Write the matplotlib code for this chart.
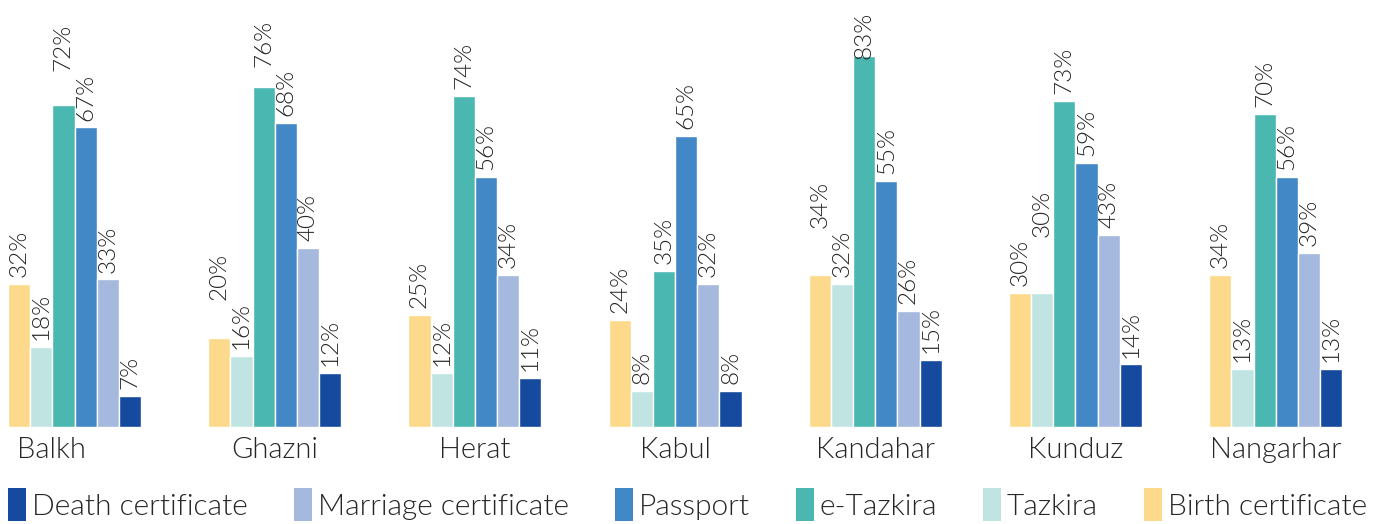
import matplotlib
matplotlib.use("Agg")
import matplotlib.pyplot as plt
from matplotlib.patches import Patch
import numpy as np

plt.rcParams['font.family'] = ['Lato', 'DejaVu Sans']
plt.rcParams['font.weight'] = 350  # Lato Light

provinces = ["Balkh", "Ghazni", "Herat", "Kabul", "Kandahar", "Kunduz", "Nangarhar"]
documents = ["Birth certificate", "Tazkira", "e-Tazkira", "Passport",
             "Marriage certificate", "Death certificate"]
colors = ["#FDD98B", "#BFE4E1", "#4AB8B1", "#4288C6", "#A5B8DD", "#164A9E"]

birth = [32, 20, 25, 24, 34, 30, 34]
tazkira = [18, 16, 12, 8, 32, 30, 13]
e_tazkira = [72, 76, 74, 35, 83, 73, 70]
passport = [67, 68, 56, 65, 55, 59, 56]
marriage = [33, 40, 34, 32, 26, 43, 39]
death = [7, 12, 11, 8, 15, 14, 13]
series = [birth, tazkira, e_tazkira, passport, marriage, death]

txt_color = "#262626"
px_unit = 22.17      # pixels per bar
group_step = 9.03    # bar units per province
dpi = 100

fig = plt.figure(figsize=(13.78, 5.24), dpi=dpi)
ax = fig.add_axes([0, 0.185, 1, 0.815])

base = np.arange(len(provinces)) * group_step
labels = [[None] * len(series) for _ in provinces]
for j, (vals, col) in enumerate(zip(series, colors)):
    xs = base + j + 0.5
    ax.bar(xs, vals, width=1.0, color=col, edgecolor="white", linewidth=1.0)
    for i, (x, v) in enumerate(zip(xs, vals)):
        labels[i][j] = ax.annotate(f"{v}%", (x, v), xytext=(0, 5), textcoords="offset points",
                                   rotation=90, ha="center", va="bottom", fontsize=17.5,
                                   color=txt_color)

# province names under each group
for i, name in enumerate(provinces):
    if i == 0:
        xpos, ha = base[i] + 0.41, "left"
    else:
        xpos, ha = base[i] + 3, "center"
    ax.annotate(name, (xpos, 0), xytext=(0, -22), textcoords="offset points",
                ha=ha, va="baseline", fontsize=21, color=txt_color,
                annotation_clip=False)

ax.set_xlim(-8 / px_unit, (1378 - 8) / px_unit)
ax.set_ylim(0, 95.5)
ax.axis("off")

# push up the taller bar's label when two neighbouring labels collide
fig.canvas.draw()
r = fig.canvas.get_renderer()
fig_h = fig.bbox.height
for i in range(len(provinces)):
    for j in range(len(series) - 1):
        a, b = labels[i][j], labels[i][j + 1]
        ea, eb = a.get_window_extent(r), b.get_window_extent(r)
        if ea.y0 < eb.y1 and eb.y0 < ea.y1:
            va_, vb_ = series[j][i], series[j + 1][i]
            if va_ > vb_:
                mover, other, em = a, eb, ea
            else:
                mover, other, em = b, ea, eb
            dy = other.y1 + 2 - em.y0
            ox, oy = mover.xyann
            mover.xyann = (ox, oy + dy * 72 / dpi)
    for t in labels[i]:
        e = t.get_window_extent(r)
        if e.y1 > fig_h - 12:
            ox, oy = t.xyann
            t.xyann = (ox, oy - (e.y1 - fig_h + 12) * 72 / dpi)

handles = [Patch(facecolor=c, edgecolor="none", label=d)
           for d, c in zip(documents[::-1], colors[::-1])]
leg = fig.legend(handles=handles, loc="lower left", ncol=6, mode="expand",
                 bbox_to_anchor=(0.004, 0.0, 0.99, 0.08), frameon=False,
                 handlelength=0.6, handleheight=1.3, handletextpad=0.2,
                 borderaxespad=0.0, borderpad=0.1, prop={"size": 21.5})
for t in leg.get_texts():
    t.set_color(txt_color)

fig.savefig("out.png", dpi=dpi)
